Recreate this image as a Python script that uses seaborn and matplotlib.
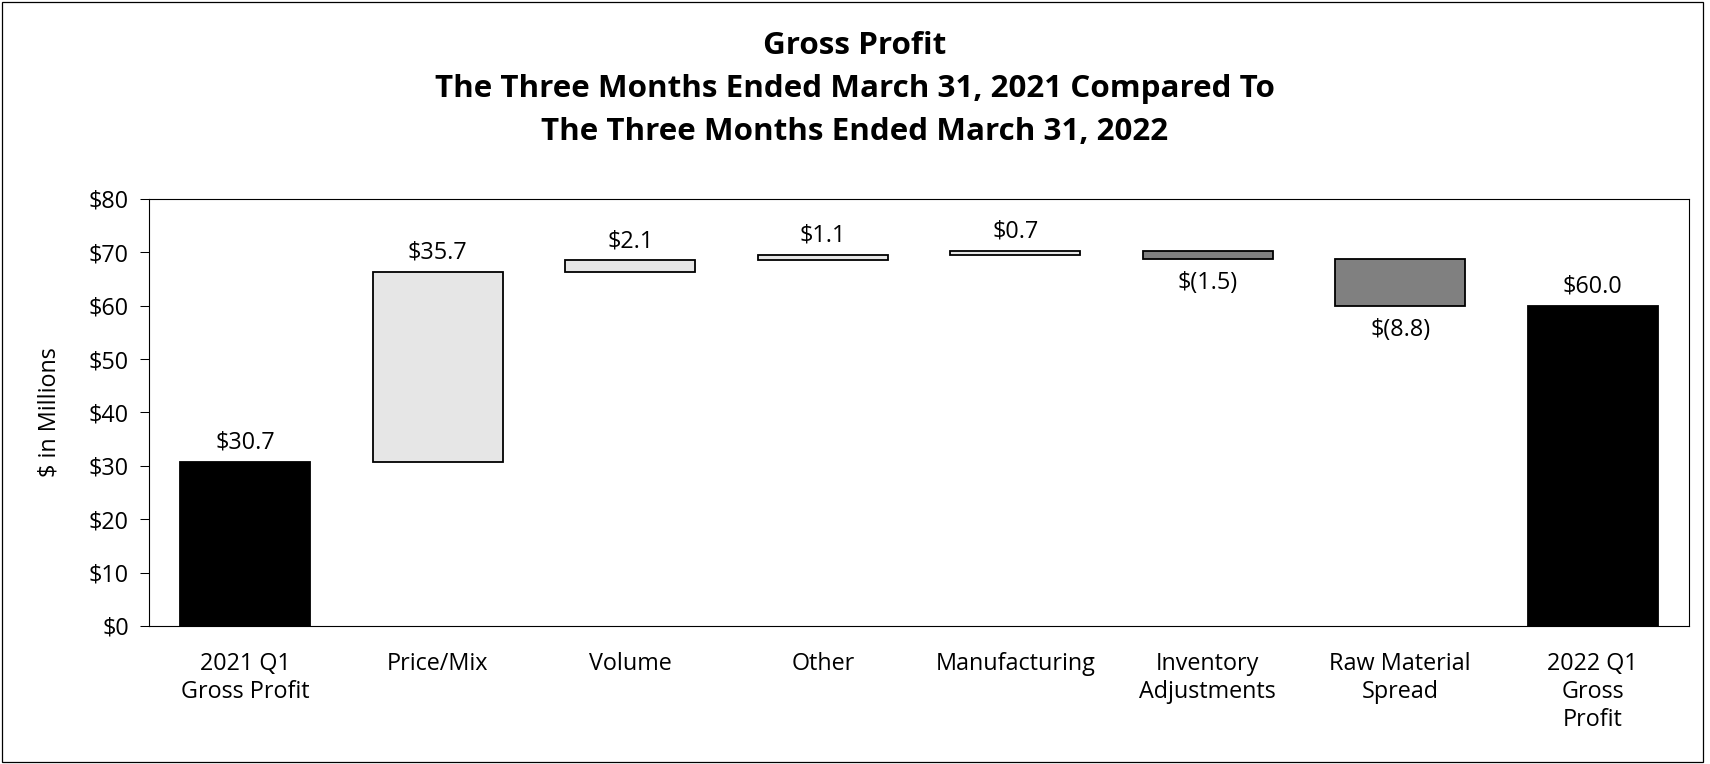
import matplotlib
matplotlib.use("Agg")
import matplotlib.pyplot as plt
import seaborn as sns
import pandas as pd
from matplotlib.patches import Rectangle

# ---------------- data ----------------
categories = ["2021 Q1\nGross Profit", "Price/Mix", "Volume", "Other",
              "Manufacturing", "Inventory\nAdjustments", "Raw Material\nSpread",
              "2022 Q1\nGross\nProfit"]
changes = [30.7, 35.7, 2.1, 1.1, 0.7, -1.5, -8.8, 60.0]
kinds = ["total", "up", "up", "up", "up", "down", "down", "total"]
value_labels = ["$30.7", "$35.7", "$2.1", "$1.1", "$0.7", "$(1.5)", "$(8.8)", "$60.0"]
y_ticks = [0, 10, 20, 30, 40, 50, 60, 70, 80]
y_tick_labels = ["$0", "$10", "$20", "$30", "$40", "$50", "$60", "$70", "$80"]
title_lines = ["Gross Profit",
               "The Three Months Ended March 31, 2021 Compared To",
               "The Three Months Ended March 31, 2022"]
y_label = "$ in Millions"

kind_colors = {"total": "#000000", "up": "#E6E6E6", "down": "#808080"}

# waterfall geometry derived from the data
bottoms, heights = [], []
running = 0.0
for c, k in zip(changes, kinds):
    if k == "total":
        bottoms.append(0.0)
        heights.append(c)
        running = c
    elif c >= 0:
        bottoms.append(running)
        heights.append(c)
        running += c
    else:
        bottoms.append(running + c)
        heights.append(-c)
        running += c

df = pd.DataFrame({"category": categories, "height": heights,
                   "bottom": bottoms, "kind": kinds})

# ---------------- style ----------------
sns.set_theme(style="white")
plt.rcParams["font.family"] = ["Open Sans", "DejaVu Sans"]
plt.rcParams["text.color"] = "black"

W, H = 1710, 764
fig = plt.figure(figsize=(W / 100, H / 100), dpi=100)
ax = fig.add_axes([149 / W, 1 - 626 / H, 1540 / W, 427 / H])

sns.barplot(data=df, x="category", y="height", order=categories,
            bottom=df["bottom"].values, width=0.675, errorbar=None,
            color="#E6E6E6", edgecolor="black", linewidth=1.3, ax=ax)

for patch, k in zip(ax.patches, kinds):
    patch.set_facecolor(kind_colors[k])
    patch.set_edgecolor("black")

# value labels
for i, (b, h, k, lab) in enumerate(zip(bottoms, heights, kinds, value_labels)):
    if k == "down":
        ax.annotate(lab, (i, b), xytext=(0, -22), textcoords="offset points",
                    ha="center", va="baseline", fontsize=16.8, color="black")
    else:
        ax.annotate(lab, (i, b + h), xytext=(0, 9.5), textcoords="offset points",
                    ha="center", va="baseline", fontsize=16.8, color="black")

ax.set_ylim(0, 80)
ax.set_xlim(-0.5, len(categories) - 0.5)
ax.set_yticks(y_ticks)
ax.set_yticklabels(y_tick_labels)
ax.tick_params(axis="y", which="major", left=True, length=6.5, width=0.75,
               color="black", labelsize=16.8, pad=8, labelcolor="black")
ax.tick_params(axis="x", which="major", bottom=False, labelsize=16.8, pad=13,
               labelcolor="black")
ax.set_xlabel("")
ax.set_ylabel(y_label, fontsize=16.8, color="black")
ax.yaxis.set_label_coords(-0.057, 0.5)

for s in ax.spines.values():
    s.set_visible(True)
    s.set_color("black")
    s.set_linewidth(0.8)

# title lines
for txt, base in zip(title_lines, [53.5, 96.5, 139.5]):
    fig.text(0.5, 1 - base / H, txt, ha="center", va="baseline",
             fontsize=22.6, fontweight="bold", color="black")

# figure border
fig.patches.append(Rectangle((2 / W, 2 / H), 1701 / W, 760 / H,
                             transform=fig.transFigure, fill=False,
                             edgecolor="black", linewidth=0.9))

fig.savefig("out.png", dpi=100)
